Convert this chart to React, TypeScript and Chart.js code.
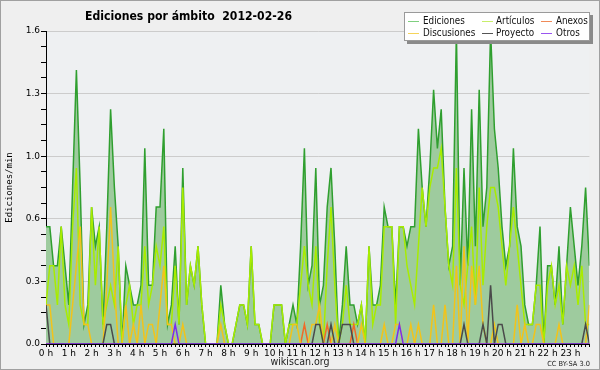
import React, { useEffect, useRef } from 'react';
import { Chart, registerables } from 'chart.js';

Chart.register(...registerables);

const hourLabels = ['0 h','1 h','2 h','3 h','4 h','5 h','6 h','7 h','8 h','9 h','10 h','11 h','12 h','13 h','14 h','15 h','16 h','17 h','18 h','19 h','20 h','21 h','22 h','23 h'];

const yTickValues = ['0.0', '0.3', '0.6', '1.0', '1.3', '1.6'];

const ediciones = [
  0.6,0.6,0.4,0.4,0.6,0.4,0.2,0.8,1.4,0.8,0.1,0.2,
  0.7,0.5,0.6,0.1,0.6,1.2,0.8,0.5,0.0,0.4,0.3,0.2,
  0.2,0.3,1.0,0.3,0.3,0.7,0.7,1.1,0.1,0.2,0.5,0.1,
  0.9,0.2,0.4,0.3,0.5,0.2,0,0,0,0,0.3,0.1,
  0,0,0.1,0.2,0.2,0.1,0.5,0.1,0.1,0,0,0,
  0.2,0.2,0.2,0,0.1,0.2,0.1,0.5,1.0,0.3,0.4,0.9,
  0.2,0.3,0.7,0.9,0.5,0,0.2,0.5,0.2,0.2,0.1,0.2,
  0,0.5,0.2,0.2,0.3,0.7,0.6,0.6,0.2,0.6,0.6,0.5,
  0.6,0.6,1.1,0.8,0.6,0.9,1.3,1.0,1.2,0.7,0.4,0.5,
  1.6,0.3,0.9,0.4,1.2,0.5,1.3,0.6,0.8,1.6,1.1,0.9,
  0.6,0.4,0.5,1.0,0.6,0.5,0.2,0.1,0.1,0.3,0.6,0.0,
  0.4,0.4,0.2,0.5,0.1,0.4,0.7,0.5,0.3,0.5,0.8,0.4
];

const articulos = [
  0.2,0.4,0.4,0.2,0.6,0.2,0.1,0.6,0.9,0.2,0.1,0.1,
  0.7,0.3,0.6,0.1,0.2,0.3,0.2,0.5,0,0.2,0.3,0.1,
  0.2,0.2,0.5,0.2,0.3,0.5,0.4,0.6,0.1,0.1,0.4,0.1,
  0.8,0.2,0.4,0.3,0.5,0.2,0,0,0,0,0.2,0.1,
  0,0,0.1,0.2,0.2,0.1,0.5,0.1,0.1,0,0,0,
  0.2,0.2,0.2,0,0.1,0.1,0.1,0.3,0.5,0.3,0.2,0.5,
  0.1,0,0.4,0.7,0.3,0,0.1,0.3,0.1,0.1,0.1,0.2,
  0,0.5,0.1,0.2,0.2,0.6,0.6,0.6,0.1,0.6,0.6,0.4,
  0.3,0.2,0.5,0.8,0.6,0.8,0.9,0.9,1.0,0.7,0.4,0.3,
  0.9,0.3,0.2,0.4,0.6,0.2,0.8,0.3,0.6,0.8,0.8,0.7,
  0.5,0.3,0.5,0.7,0.5,0.3,0.1,0.1,0.1,0.3,0.3,0,
  0.3,0.4,0.2,0.3,0.1,0.4,0.3,0.4,0.2,0.4,0.1,0.1
];

const anexos = [
  0,0,0,0,0,0,0,0,0,0,0,0,
  0,0,0,0,0,0,0,0,0,0,0,0,
  0,0,0,0,0,0,0,0,0,0,0,0,
  0,0,0,0,0,0,0,0,0,0,0,0,
  0,0,0,0,0,0,0,0,0,0,0,0,
  0,0,0,0,0,0,0,0,0.1,0,0,0,
  0,0,0.1,0,0,0,0,0,0,0.1,0,0,
  0,0,0,0,0,0,0,0,0,0,0,0,
  0,0,0,0,0,0,0,0,0,0,0,0,
  0,0,0,0,0,0,0,0,0,0,0,0,
  0,0,0,0,0,0,0,0,0,0,0,0,
  0,0,0,0,0,0,0,0,0,0,0,0
];

const discusiones = [
  0.2,0.2,0,0,0,0,0,0.2,0.4,0.6,0.1,0.1,
  0,0,0,0,0.3,0.7,0.3,0,0,0.2,0,0.1,
  0,0.2,0,0.1,0.1,0,0.2,0.4,0.1,0.1,0,0,
  0.1,0,0,0,0,0,0,0,0,0,0.1,0,
  0,0,0,0,0,0,0,0,0,0,0,0,
  0,0,0,0,0,0.1,0.1,0,0,0,0.1,0.1,
  0.2,0,0,0,0.1,0,0,0,0,0,0,0.1,
  0,0,0,0,0,0.1,0,0,0.1,0.1,0,0,
  0.1,0,0.1,0,0,0,0.2,0,0,0.2,0,0,
  0.4,0,0.5,0,0.4,0.2,0.4,0.1,0,0,0.1,0,
  0,0,0,0,0.2,0,0.1,0,0,0.1,0.1,0,
  0,0,0,0.1,0,0,0,0,0,0,0,0.2
];

const proyecto = [
  0.2,0,0,0,0,0,0,0,0,0,0,0,
  0,0,0,0,0.1,0.1,0,0,0,0,0,0,
  0,0,0,0,0,0,0,0,0,0,0,0,
  0,0,0,0,0,0,0,0,0,0,0,0,
  0,0,0,0,0,0,0,0,0,0,0,0,
  0,0,0,0,0,0,0,0,0,0,0,0.1,
  0.1,0,0,0.1,0,0,0.1,0.1,0.1,0,0,0,
  0,0,0,0,0,0,0,0,0,0,0,0,
  0,0,0,0,0,0,0,0,0,0,0,0,
  0,0,0.1,0,0,0,0,0.1,0,0.3,0,0.1,
  0.1,0,0,0,0,0,0,0,0,0,0,0,
  0,0,0,0,0,0,0,0,0,0,0.1,0
];

const otros = [
  0,0,0,0,0,0,0,0,0,0,0,0,
  0,0,0,0,0,0,0,0,0,0,0,0,
  0,0,0,0,0,0,0,0,0,0,0.1,0,
  0,0,0,0,0,0,0,0,0,0,0,0,
  0,0,0,0,0,0,0,0,0,0,0,0,
  0,0,0,0,0,0,0,0,0,0,0,0,
  0,0,0,0,0,0,0,0,0,0,0,0,
  0,0,0,0,0,0,0,0,0,0.1,0,0,
  0,0,0,0,0,0,0,0,0,0,0,0,
  0,0,0,0,0,0,0,0,0,0,0,0,
  0,0,0,0,0,0,0,0,0,0,0,0,
  0,0,0,0,0,0,0,0,0,0,0,0
];

const seriesNames = ['Ediciones', 'Artículos', 'Anexos', 'Discusiones', 'Proyecto', 'Otros'];
const seriesColors = ['#2f9f2f', '#a8ec00', '#f06a28', '#f2c31a', '#4a4a4a', '#7b2cf0'];
const legendColors = ['#7fcf7f', '#c8ee6a', '#f08a58', '#f5d45a', '#555555', '#9a55f0'];
const titleText = 'Ediciones por ámbito  2012-02-26';
const yAxisTitle = 'Ediciones/min';
const footerText = 'wikiscan.org';
const licenseText = 'CC BY-SA 3.0';

const FONT = '"DejaVu Sans", "Liberation Sans", sans-serif';

const toPoints = (arr: number[]) => arr.map((v, i) => ({ x: i, y: v }));

function scaledText(ctx: any, text: string, x: number, y: number, sx: number, align: string) {
  ctx.save();
  ctx.translate(x, y);
  ctx.scale(sx, 1);
  ctx.textAlign = align;
  ctx.fillText(text, 0, 0);
  ctx.restore();
}

const decorPlugin = {
  id: 'decor',
  beforeDraw(chart: any) {
    const ctx = chart.ctx;
    ctx.save();
    ctx.fillStyle = '#efefef';
    ctx.fillRect(0, 0, chart.width, chart.height);
    const a = chart.chartArea;
    ctx.fillStyle = '#eef0f2';
    ctx.fillRect(a.left, a.top, a.right - a.left, a.bottom - a.top);
    ctx.restore();
  },
  afterDraw(chart: any) {
    const ctx = chart.ctx;
    ctx.save();
    ctx.strokeStyle = '#a0a0a0';
    ctx.lineWidth = 1;
    ctx.strokeRect(0.5, 0.5, chart.width - 1, chart.height - 1);
    ctx.fillStyle = '#000';
    ctx.font = 'bold 13px ' + FONT;
    ctx.textBaseline = 'middle';
    const tw = ctx.measureText(titleText).width;
    scaledText(ctx, titleText, 188.5, 17, 207 / tw, 'center');
    ctx.font = '10px ' + FONT;
    ctx.fillStyle = '#222';
    scaledText(ctx, footerText, 300, 362, 0.95, 'center');
    ctx.font = '7px ' + FONT;
    scaledText(ctx, licenseText, 590, 364, 0.95, 'right');
    const lx = 404, ly = 12, lw = 186, lh = 29;
    ctx.fillStyle = '#8a8a8a';
    ctx.fillRect(lx + 3, ly + 3, lw, lh);
    ctx.fillStyle = '#ffffff';
    ctx.fillRect(lx, ly, lw, lh);
    ctx.strokeStyle = '#9a9a9a';
    ctx.strokeRect(lx + 0.5, ly + 0.5, lw - 1, lh - 1);
    const cols = [408, 482, 541];
    const textCols = [423, 496, 556];
    const rows = [21, 33];
    ctx.font = '10px ' + FONT;
    ctx.textBaseline = 'middle';
    seriesNames.forEach((name, k) => {
      const col = k < 3 ? k : k - 3;
      const row = k < 3 ? 0 : 1;
      ctx.strokeStyle = legendColors[k];
      ctx.lineWidth = 1;
      ctx.beginPath();
      ctx.moveTo(cols[col], rows[row] + 0.5);
      ctx.lineTo(cols[col] + 11, rows[row] + 0.5);
      ctx.stroke();
      ctx.fillStyle = '#111';
      scaledText(ctx, name, textCols[col], rows[row], 0.88, 'left');
    });
    ctx.restore();
  },
};

export default function App() {
  const ref = useRef<HTMLCanvasElement>(null);
  useEffect(() => {
    if (!ref.current) return;
    const seriesData = [ediciones, articulos, anexos, discusiones, proyecto, otros];
    const chart = new Chart(ref.current, {
      type: 'line',
      data: {
        datasets: seriesData.map((arr, k) => ({
          label: seriesNames[k],
          data: toPoints(arr),
          borderColor: seriesColors[k],
          backgroundColor: k === 0 ? '#9ecb9e' : seriesColors[k],
          fill: k === 0 ? 'origin' : false,
          borderWidth: 1.5,
          pointRadius: 0,
          tension: 0,
          order: k === 0 ? 10 : 6 - k,
        })),
      },
      options: {
        responsive: false,
        animation: false,
        events: [],
        layout: { padding: { left: 0, right: 10.6, top: 31, bottom: 0 } },
        plugins: { legend: { display: false }, tooltip: { enabled: false }, title: { display: false } },
        scales: {
          x: {
            type: 'linear',
            min: 0,
            max: 143,
            afterFit: (s: any) => { s.height = 26; },
            border: { color: '#000', width: 1 },
            grid: { drawOnChartArea: false, tickLength: 3, tickColor: '#000', lineWidth: 1 },
            ticks: {
              stepSize: 1,
              autoSkip: false,
              maxRotation: 0,
              padding: 1,
              color: '#000',
              font: { family: FONT, size: 9 },
              callback: (v: any) => (Number(v) % 6 === 0 ? hourLabels[Number(v) / 6] : ''),
            },
          },
          y: {
            type: 'linear',
            min: 0,
            max: 1.6,
            afterFit: (s: any) => { s.width = 46; },
            border: { color: '#000', width: 1 },
            grid: {
              color: (c: any) => (c.index % 4 === 0 && c.index > 0 ? '#cccccc' : 'rgba(0,0,0,0)'),
              tickColor: '#000',
              tickLength: 5,
            },
            title: {
              display: true,
              text: yAxisTitle,
              color: '#000',
              font: { family: '"DejaVu Sans Mono", monospace', size: 9 },
              padding: { top: 4, bottom: 0 },
            },
            ticks: {
              stepSize: 0.08,
              autoSkip: false,
              padding: 1,
              color: '#000',
              font: { family: FONT, size: 9 },
              callback: (_v: any, i: number) => (i % 4 === 0 ? yTickValues[i / 4] : ''),
            },
          },
        },
      },
      plugins: [decorPlugin],
    });
    return () => chart.destroy();
  }, []);
  return (
    <div style={{ position: 'fixed', left: 0, top: 0, width: 600, height: 370 }}>
      <canvas ref={ref} width={600} height={370} />
    </div>
  );
}
